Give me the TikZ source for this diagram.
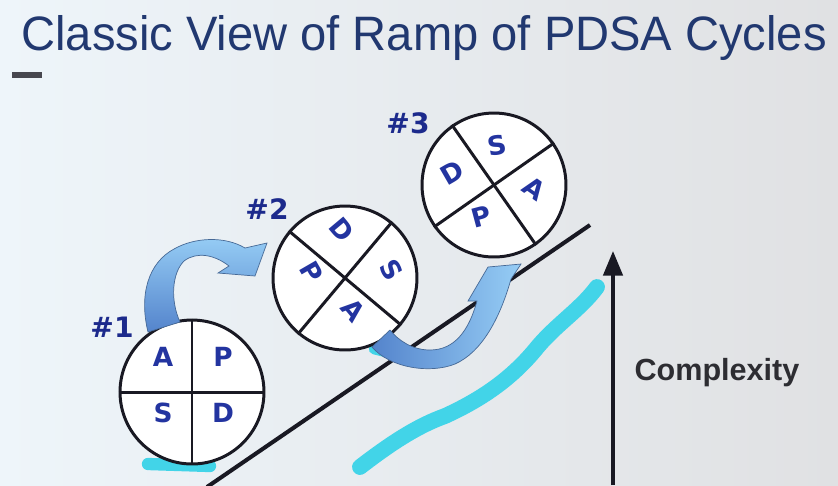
\documentclass[tikz,border=0pt]{standalone}
\usepackage{fontspec}
\setmainfont{Liberation Sans}
\newfontfamily\verdfont{DejaVu Sans}
\usetikzlibrary{arrows.meta,positioning,calc}
\definecolor{titleblue}{RGB}{33,56,112}
\definecolor{letterblue}{RGB}{35,52,160}
\definecolor{markerblue}{RGB}{28,42,140}
\definecolor{highlight}{RGB}{66,212,232}
\definecolor{arrowdark}{RGB}{84,132,204}
\definecolor{arrowlight}{RGB}{150,205,245}
\definecolor{arrowedge}{RGB}{70,105,150}
\definecolor{inkline}{RGB}{25,25,35}
\definecolor{labelgray}{RGB}{45,45,50}
\definecolor{paperleft}{RGB}{238,245,250}
\definecolor{paperright}{RGB}{224,225,227}

\begin{document}
\begin{tikzpicture}[
  x=0.02cm, y=-0.02cm,
  cycle/.style={draw=inkline, circle, line width=1.7pt, minimum size=2.88cm, inner sep=0pt, fill=white},
  quarter/.style={draw=inkline, line width=1.7pt},
  letter/.style={font=\verdfont\bfseries\fontsize{15}{15}\selectfont, text=letterblue, inner sep=0pt},
  marker/.style={font=\verdfont\bfseries\fontsize{16}{16}\selectfont, text=markerblue, inner sep=0pt},
  stroke/.style={draw=highlight, line cap=round, line join=round},
  bent/.style={draw=arrowedge, line width=0.4pt}
]
\useasboundingbox (0,0) rectangle (838,485);
\shade[left color=paperleft, middle color=white, right color=paperright] (0,0) rectangle (838,485);

% title
\node[anchor=base west, inner sep=0pt, xscale=0.975, text=titleblue, font=\fontsize{27.5}{30}\selectfont] (title) at (21,50) {Classic View of Ramp of PDSA Cycles};
\draw[line width=3pt, inkline!80] (12,75) -- (42,75);

% highlighter marks
\draw[stroke, line width=7pt] (148,464) -- (210,466);
\draw[stroke, line width=6pt] (374,349) -- (394,354);
\draw[stroke, line width=9pt] (360,467) .. controls (395,440) and (420,425) .. (445,416)
  .. controls (480,400) and (510,380) .. (535,350)
  .. controls (555,325) and (580,310) .. (597,287);

% ramp and axis
\coordinate (ramp low) at (207,487);
\coordinate (ramp high) at (590,225);
\draw[inkline, line width=2.3pt] (ramp low) -- (ramp high);
\coordinate (axis low) at (613,485);
\coordinate (axis top) at (613,251);
\draw[inkline, line width=2pt, -{Triangle[length=14pt,width=11pt]}] (axis low) -- (axis top);
\node[font=\bfseries\fontsize{17.4}{18}\selectfont, text=labelgray] (complexity) at (717,373) {Complexity};

% cycle 1
\node[cycle] (c1) at (192,392) {};
\draw[quarter] (c1.north) -- (c1.south);
\draw[quarter] (c1.west) -- (c1.east);
\node[letter] (c1a) at ([shift={(-29,-35)}]c1.center) {A};
\node[letter] (c1p) at ([shift={(31,-35)}]c1.center) {P};
\node[letter] (c1s) at ([shift={(-29,21)}]c1.center) {S};
\node[letter] (c1d) at ([shift={(31,21)}]c1.center) {D};
\node[marker] (m1) at (112,327) {\#1};

% cycle 2
\node[cycle] (c2) at (345,278) {};
\draw[quarter] (c2.50) -- (c2.230);
\draw[quarter] (c2.140) -- (c2.320);
\node[letter, rotate=-50] (c2d) at ([shift={(-3,-48)}]c2.center) {D};
\node[letter, rotate=-60] (c2s) at ([shift={(47,-8)}]c2.center) {S};
\node[letter, rotate=-50] (c2a) at ([shift={(8,32)}]c2.center) {A};
\node[letter, rotate=-60] (c2p) at ([shift={(-33,-6)}]c2.center) {P};
\node[marker] (m2) at (267,209) {\#2};

% cycle 3
\node[cycle] (c3) at (494,185) {};
\draw[quarter] (c3.35) -- (c3.215);
\draw[quarter] (c3.125) -- (c3.305);
\node[letter, rotate=10] (c3s) at ([shift={(3,-40)}]c3.center) {S};
\node[letter, rotate=30] (c3d) at ([shift={(-42,-12)}]c3.center) {D};
\node[letter, rotate=-35] (c3a) at ([shift={(40,3)}]c3.center) {A};
\node[letter, rotate=15] (c3p) at ([shift={(-13,32)}]c3.center) {P};
\node[marker] (m3) at (408,123) {\#3};

% bent arrows
\shade[bent, top color=arrowlight, bottom color=arrowdark]
  (148,332) .. controls (139,295) and (148,263) .. (174,249)
  .. controls (195,237) and (225,236) .. (245,248)
  -- (267,243) -- (255,276) -- (218,273) -- (229,266)
  .. controls (215,255) and (197,251) .. (184,261)
  .. controls (172,273) and (170,300) .. (180,322) -- cycle;
\shade[bent, left color=arrowdark, right color=arrowlight]
  (372,347) .. controls (390,368) and (430,374) .. (455,364)
  .. controls (482,352) and (500,318) .. (511,279)
  -- (521,264) -- (488,267) -- (468,301) -- (477,301)
  .. controls (469,330) and (455,350) .. (430,350)
  .. controls (412,350) and (398,340) .. (390,330) -- cycle;
\end{tikzpicture}
\end{document}
